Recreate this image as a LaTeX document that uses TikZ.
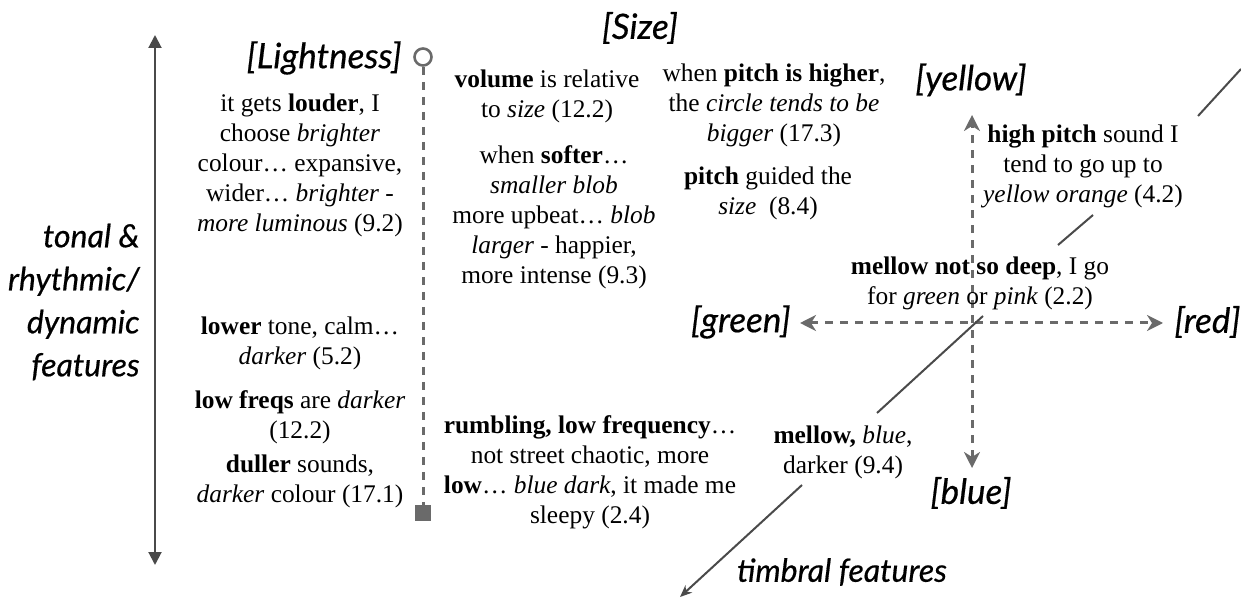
\documentclass[tikz,border=0pt]{standalone}
\usepackage{fontspec}
\setmainfont{Liberation Serif}
\newfontfamily\gill{Lato}[ItalicFeatures={FakeBold=0.5}]
\usepackage{xcolor}
\usetikzlibrary{positioning,arrows.meta,calc}
\definecolor{axgray}{HTML}{4A4A4A}
\definecolor{dashgray}{HTML}{6A6A6A}

\begin{document}
\begin{tikzpicture}[
  x=0.5pt, y=-0.5pt,
  font=\fontsize{12.7}{15}\selectfont,
  quote/.style={align=center, inner sep=1pt},
  dim/.style={font=\gill\itshape\fontsize{16}{21.5}\selectfont, inner sep=1pt},
  tag/.style={dim, font=\gill\itshape\fontsize{17.5}{21}\selectfont},
  axis/.style={{Triangle[length=6.5pt,width=6.5pt]}-{Triangle[length=6.5pt,width=6.5pt]}, line width=1pt, axgray},
  dax/.style={line width=1.5pt, dashgray, dash pattern=on 4pt off 3.5pt},
  cax/.style={dax, {Stealth[length=8pt,width=8pt,inset=2.5pt]}-{Stealth[length=8pt,width=8pt,inset=2.5pt]}},
  tim/.style={line width=1pt, axgray},
]
\useasboundingbox (0,0) rectangle (1241,598);

% tonal / dynamic axis
\coordinate (ltop) at (155,35);
\coordinate (lbot) at (155,565);
\draw[axis] (lbot) -- (ltop);
\node[dim, align=right, anchor=east] (tonal) at (142,302) {tonal \&\\rhythmic/\\dynamic\\features};

% lightness
\node[tag, anchor=east] (light) at (404,58) {[Lightness]};
\node[circle, draw=dashgray, line width=1.3pt, minimum size=8.5pt, inner sep=0pt] (lcirc) at (423,57) {};
\node[fill=dashgray, minimum size=8pt, inner sep=0pt] (lsq) at (423,513) {};
\draw[dax] (lcirc) -- (lsq);

\node[quote] (louder) at (300,165) {it gets \textbf{louder}, I\\choose \emph{brighter}\\colour… expansive,\\wider… \emph{brighter} -\\\emph{more luminous} (9.2)};
\node[quote] (lower) at (300,343) {\textbf{lower} tone, calm…\\\emph{darker} (5.2)};
\node[quote, below=8pt of lower] (freqs) {\textbf{low freqs} are \emph{darker}\\(12.2)};
\node[quote, below=3pt of freqs] (duller) {\textbf{duller} sounds,\\\emph{darker} colour (17.1)};

% size
\node[tag] (size) at (640,28) {[Size]};
\node[quote] (volume) at (547,96) {\textbf{volume} is relative\\to \emph{size} (12.2)};
\node[quote, below=9pt of volume, xshift=3.5pt] (softer) {when \textbf{softer}…\\\emph{smaller blob}\\more upbeat… \emph{blob}\\\emph{larger} - happier,\\more intense (9.3)};
\node[quote] (higher) at (774,105) {when \textbf{pitch is higher},\\the \emph{circle tends to be}\\\emph{bigger} (17.3)};
\node[quote, below=8pt of higher, xshift=-3pt] (guided) {\textbf{pitch} guided the\\\emph{size}\ \ (8.4)};
\node[quote] (rumbling) at (590,472) {\textbf{rumbling, low frequency}…\\not street chaotic, more\\\textbf{low}… \emph{blue dark}, it made me\\sleepy (2.4)};

% colour axes
\node[tag] (yellow) at (971,80) {[yellow]};
\node[tag] (blue) at (971,493) {[blue]};
\node[tag, anchor=east] (green) at (793,322) {[green]};
\node[tag, anchor=west] (red) at (1172,322) {[red]};
\coordinate (ytip) at (972,115);
\coordinate (btip) at (972,468);
\coordinate (gtip) at (800,323);
\coordinate (rtip) at (1163,323);
\draw[cax] (btip) -- (ytip);
\draw[cax] (gtip) -- (rtip);

\node[quote] (highpitch) at (1083,166) {\textbf{high pitch} sound I\\tend to go up to\\\emph{yellow orange} (4.2)};
\node[quote] (notdeep) at (980,283) {\textbf{mellow not so deep}, I go\\for \emph{green} or \emph{pink} (2.2)};
\node[quote] (mellow) at (843,452) {\textbf{mellow,} \emph{blue},\\darker (9.4)};

% timbral axis, broken by the quotes
\coordinate (t0) at (680,597);
\coordinate (t1) at (802,485);
\coordinate (t2) at (877,413);
\coordinate (t3) at (983,316);
\coordinate (t4) at (1058,245);
\coordinate (t5) at (1093,215);
\coordinate (t6) at (1198,116);
\coordinate (t7) at (1241,69);
\draw[tim, {Stealth[length=6pt,width=5pt]}-] (t0) -- (t1);
\draw[tim] (t2) -- (t3);
\draw[tim] (t4) -- (t5);
\draw[tim] (t6) -- (t7);
\node[dim] (timbral) at (842,572) {timbral features};
\end{tikzpicture}
\end{document}
